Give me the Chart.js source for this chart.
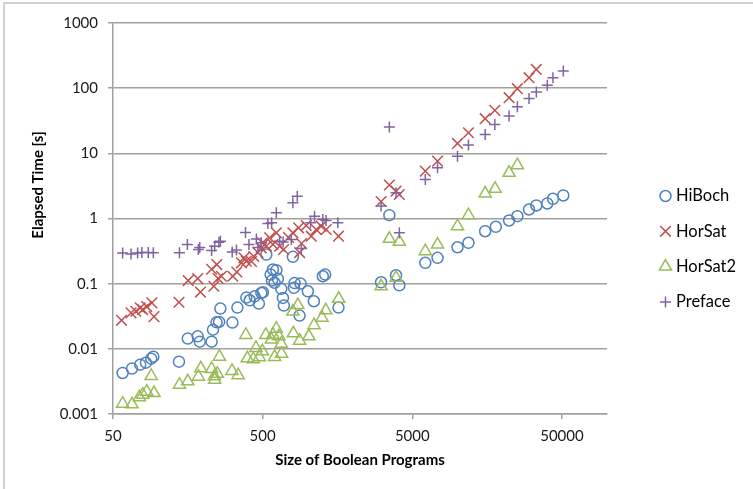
<!DOCTYPE html>
<html>
<head>
<meta charset="utf-8">
<script src="https://cdn.jsdelivr.net/npm/chart.js@4/dist/chart.umd.min.js"></script>
<style>
    html, body { margin: 0; padding: 0; background: #fff; }
    #wrap { position: relative; width: 753px; height: 489px; }
</style>
</head>
<body>
<div id="wrap"><canvas id="chart" width="753" height="489"></canvas></div>
<script>
// values (size of boolean program, elapsed time in seconds)
const hiboch_size = [58, 67, 76, 83, 90, 93, 138, 158, 184, 190, 228, 233, 246, 256, 261, 314, 339, 389, 410, 442,
    472, 490, 502, 529, 565, 586, 617, 577, 601, 632, 666, 683, 693, 796, 809, 817, 896, 882, 1002, 1099,
    1262, 1309, 1606, 3093, 3513, 3894, 4096, 6107, 7374, 10023, 11866, 15340, 18072, 22166, 25177, 30130, 33710, 39900, 43550, 51030]
const hiboch_time = [0.00426, 0.00497, 0.00572, 0.00614, 0.00707, 0.00759, 0.00636, 0.01435, 0.01556, 0.0129, 0.0129, 0.0197, 0.0255, 0.0259, 0.0415, 0.0253, 0.043, 0.0612, 0.0556, 0.064,
    0.0495, 0.0722, 0.0738, 0.28, 0.138, 0.165, 0.161, 0.112, 0.103, 0.1185, 0.0832, 0.0605, 0.0461, 0.258, 0.0862, 0.102, 0.1004, 0.0324, 0.0764, 0.0537,
    0.13, 0.138, 0.043, 0.105, 1.124, 0.1346, 0.0945, 0.209, 0.249, 0.362, 0.424, 0.638, 0.746, 0.932, 1.085, 1.375, 1.584, 1.70, 2.007, 2.256]

const horsat_size = [57, 66, 71, 76, 79, 84, 91, 94, 138, 159, 184, 192, 228, 236, 247, 252, 265, 316, 336, 361,
    375, 389, 421, 436, 465, 490, 498, 529, 557, 586, 617, 649, 690, 745, 796, 869, 883, 910, 978, 1056,
    1140, 1231, 1330, 1606, 3093, 3513, 3894, 4096, 6107, 7374, 10023, 11866, 15340, 17800, 22166, 25177, 30130, 33710]
const horsat_time = [0.0274, 0.0356, 0.0377, 0.0425, 0.040, 0.0445, 0.0507, 0.0312, 0.0518, 0.1116, 0.1198, 0.0743, 0.1665, 0.0912, 0.1965, 0.12, 0.13, 0.13, 0.1508, 0.2088,
    0.249, 0.221, 0.2186, 0.261, 0.300, 0.355, 0.423, 0.378, 0.505, 0.399, 0.603, 0.375, 0.334, 0.511, 0.603, 0.72, 0.30, 0.413, 0.781, 0.535,
    0.678, 0.762, 0.678, 0.535, 1.824, 3.27, 2.626, 2.337, 5.33, 7.59, 14.2, 20.7, 34.0, 45.6, 71.5, 98.2, 145, 194]

const horsat2_size = [58, 67, 75, 79, 84, 94, 90, 139, 158, 186, 193, 228, 238, 249, 239, 257, 312, 343, 386, 395,
    433, 451, 475, 498, 525, 572, 586, 601, 617, 642, 666, 669, 802, 796, 860, 883, 1018, 1102, 1246, 1321,
    1611, 3093, 3894, 3513, 4096, 6107, 7374, 10023, 11866, 15340, 17880, 22166, 25177]
const horsat2_time = [0.00144, 0.00141, 0.00181, 0.00198, 0.0022, 0.0021, 0.00384, 0.00282, 0.00317, 0.00374, 0.00502, 0.00491, 0.00378, 0.00416, 0.00336, 0.00759, 0.00458, 0.00394, 0.01635, 0.00715,
    0.00695, 0.01032, 0.00746, 0.00916, 0.01635, 0.01385, 0.01652, 0.0075, 0.0204, 0.01556, 0.012, 0.00844, 0.0173, 0.0373, 0.0469, 0.01336, 0.01556, 0.0231, 0.0301, 0.039,
    0.0586, 0.0912, 0.1228, 0.488, 0.4385, 0.315, 0.399, 0.762, 1.124, 2.42, 2.86, 5.03, 6.59]

const preface_size = [58, 66, 73, 78, 86, 93, 139, 157, 186, 190, 228, 239, 255, 261, 313, 334, 384, 405, 454, 465,
    490, 542, 574, 617, 649, 685, 777, 796, 852, 906, 1045, 1111, 1262, 1326, 1589, 3093, 3513, 3894, 4096, 6107,
    7374, 10023, 11866, 15340, 17800, 22166, 25177, 30130, 33710, 39900, 43550, 51030]
const preface_time = [0.295, 0.285, 0.295, 0.300, 0.300, 0.297, 0.297, 0.399, 0.334, 0.358, 0.322, 0.375, 0.432, 0.448, 0.306, 0.328, 0.609, 0.399, 0.484, 0.358,
    0.423, 0.838, 0.859, 1.224, 0.448, 0.435, 0.476, 1.742, 2.20, 0.346, 0.859, 1.085, 0.965, 0.932, 0.859, 1.55, 25.3, 2.48, 0.603, 3.97,
    6.01, 9.06, 13.4, 19.5, 27.8, 37.3, 52.0, 69.7, 87.1, 110.4, 145, 183]

const series_names = ["HiBoch", "HorSat", "HorSat2", "Preface"]
const x_ticks = [50, 500, 5000, 50000]
const y_ticks = [0.001, 0.01, 0.1, 1, 10, 100, 1000]

const series_colors = ["#4f81bd", "#c0504d", "#9bbb59", "#8064a2"]
const series_points = [["circle", 5.5], ["crossRot", 7.5], ["triangle", 7], ["cross", 5.5]]
const grid_color = "#a0a0a0"

function getDataset(i, sizes, times){
    return {
        label: series_names[i],
        data: sizes.map((s, k) => ({x: s, y: times[k]})),
        showLine: false,
        pointStyle: series_points[i][0],
        pointRadius: series_points[i][1],
        pointHoverRadius: series_points[i][1],
        pointBorderWidth: 1.5,
        borderColor: series_colors[i],
        backgroundColor: "rgba(0,0,0,0)",
        order: 3 - i
    }
}

// border, axis titles and legend drawn by hand to match the picture
const decorations = {
    id: "decorations",
    beforeDraw(chart){
        const ctx = chart.ctx
        ctx.save()
        ctx.fillStyle = "#fff"
        ctx.fillRect(0, 0, chart.width, chart.height)
        ctx.strokeStyle = "#c4c4c4"
        ctx.lineWidth = 1.5
        ctx.beginPath()
        ctx.moveTo(753, 3)
        ctx.lineTo(4, 3)
        ctx.lineTo(4, 489)
        ctx.stroke()
        ctx.restore()
    },
    afterDraw(chart){
        const ctx = chart.ctx
        const area = chart.chartArea
        ctx.save()
        ctx.fillStyle = "#000"
        ctx.font = "bold 15px Lato"
        ctx.textAlign = "center"
        ctx.textBaseline = "middle"
        ctx.fillText("Size of Boolean Programs", (area.left + area.right) / 2, 460)
        ctx.translate(38, 185)
        ctx.rotate(-Math.PI / 2)
        ctx.fillText("Elapsed Time [s]", 0, 0)
        ctx.restore()

        series_names.forEach((name, i) => {
            const y = 196 + i * 35.3
            ctx.save()
            ctx.strokeStyle = series_colors[i]
            ctx.fillStyle = "rgba(0,0,0,0)"
            ctx.lineWidth = 1.5
            Chart.helpers.drawPoint(ctx, {
                pointStyle: series_points[i][0],
                radius: series_points[i][1],
                rotation: 0,
                borderWidth: 1.5
            }, 665.5, y)
            ctx.restore()
            ctx.save()
            ctx.fillStyle = "#000"
            ctx.font = "16.5px Lato"
            ctx.textAlign = "left"
            ctx.textBaseline = "middle"
            ctx.fillText(name, 676, y)
            ctx.restore()
        })
    }
}

new Chart(document.getElementById("chart"), {
    type: "scatter",
    data: {
        datasets: [
            getDataset(0, hiboch_size, hiboch_time),
            getDataset(1, horsat_size, horsat_time),
            getDataset(2, horsat2_size, horsat2_time),
            getDataset(3, preface_size, preface_time)
        ]
    },
    options: {
        responsive: false,
        animation: false,
        events: [],
        layout: {
            padding: {left: 0, right: 146, top: 23, bottom: 0}
        },
        plugins: {
            legend: {display: false},
            tooltip: {enabled: false}
        },
        scales: {
            x: {
                type: "logarithmic",
                min: 50,
                max: 100000,
                afterBuildTicks: (axis) => { axis.ticks = x_ticks.map(v => ({value: v})) },
                afterFit: (axis) => { axis.height = 75 },
                ticks: {
                    callback: (v) => String(v),
                    font: {family: "Lato", size: 15},
                    color: "#1a1a1a",
                    padding: 8,
                    maxRotation: 0,
                    autoSkip: false
                },
                grid: {drawOnChartArea: false, color: grid_color, lineWidth: 1.5, tickLength: 5},
                border: {color: grid_color, width: 1.5}
            },
            y: {
                type: "logarithmic",
                min: 0.001,
                max: 1000,
                afterBuildTicks: (axis) => { axis.ticks = y_ticks.map(v => ({value: v})) },
                afterFit: (axis) => { axis.width = 113 },
                ticks: {
                    callback: (v) => String(v),
                    font: {family: "Lato", size: 15},
                    color: "#1a1a1a",
                    padding: 10
                },
                grid: {color: grid_color, lineWidth: 1.5, tickLength: 5},
                border: {color: grid_color, width: 1.5}
            }
        }
    },
    plugins: [decorations]
});
</script>
</body>
</html>
